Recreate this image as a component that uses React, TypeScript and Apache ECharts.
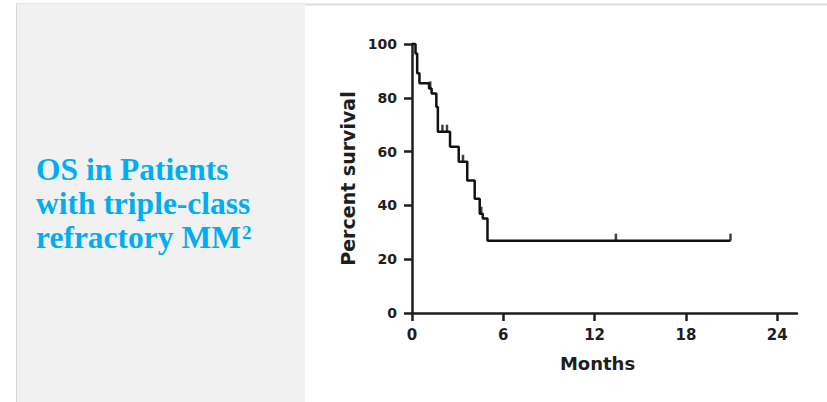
import React, { useEffect, useRef } from "react";
import * as echarts from "echarts";

// Kaplan-Meier step points (months, percent survival)
const stepMonths = [0, 0.23, 0.34, 0.49, 1.12, 1.29, 1.6, 1.7, 2.5, 3.07, 3.63, 4.12, 4.45, 4.65, 4.96, 20.93];
const stepSurvival = [100, 96.5, 89.1, 85.4, 83.5, 81.6, 76.6, 67.4, 61.8, 56.2, 49.3, 42.5, 36.9, 35.1, 26.9, 26.9];

// Censored observations
const censorMonths = [1.2, 2.0, 2.3, 3.35, 4.55, 13.4, 20.93];
const censorSurvival = [83.5, 67.4, 67.4, 56.2, 36.9, 26.9, 26.9];

const xTicks = [0, 6, 12, 18, 24];
const titleLines = ["OS in Patients", "with triple-class", "refractory MM"];
const titleSup = "2";
const xName = "Months";
const yName = "Percent survival";

export default function App() {
  const ref = useRef<HTMLDivElement>(null);
  useEffect(() => {
    if (!ref.current) return;
    const chart = echarts.init(ref.current, undefined, { renderer: "svg" });
    const sans = "DejaVu Sans";
    const serif = "Liberation Serif";
    const blue = "#00AEEF";
    const ink = "#1e1e1e";
    const lineCenters = [169.5, 203.5, 237.5];
    chart.setOption({
      animation: false,
      backgroundColor: "#ffffff",
      graphic: [
        { type: "rect", shape: { x: 16, y: 3, width: 289, height: 399 }, style: { fill: "#f1f1f1" }, z: 0 },
        { type: "line", shape: { x1: 16.5, y1: 3, x2: 16.5, y2: 402 }, style: { stroke: "#d6d6d6", lineWidth: 1 }, z: 1 },
        { type: "line", shape: { x1: 16, y1: 3.5, x2: 305, y2: 3.5 }, style: { stroke: "#e4e4e4", lineWidth: 1 }, z: 1 },
        { type: "line", shape: { x1: 305, y1: 4.5, x2: 827, y2: 4.5 }, style: { stroke: "#dcdcdc", lineWidth: 2 }, z: 1 },
        ...titleLines.map((t, i) => ({
          type: "text",
          x: 36,
          y: lineCenters[i],
          z: 2,
          style: {
            text: t,
            fill: blue,
            font: `bold 31.5px "${serif}"`,
            textAlign: "left",
            textVerticalAlign: "middle",
          },
        })),
        {
          type: "text",
          x: 242,
          y: 232.5,
          z: 2,
          style: {
            text: titleSup,
            fill: blue,
            font: `bold 19px "${serif}"`,
            textAlign: "left",
            textVerticalAlign: "middle",
          },
        },
      ],
      grid: { left: 412, top: 44, right: 30, bottom: 89, containLabel: false },
      xAxis: {
        type: "value",
        min: 0,
        max: 25.3,
        name: xName,
        nameLocation: "middle",
        nameGap: 41,
        nameTextStyle: { fontFamily: sans, fontWeight: "bold", fontSize: 18, color: ink, padding: [0, 14, 0, 0] },
        axisLine: { lineStyle: { color: ink, width: 2.5 } },
        axisTick: { show: true, length: 8, lineStyle: { color: ink, width: 2.5 }, customValues: xTicks },
        axisLabel: { fontFamily: sans, fontWeight: "bold", fontSize: 15, color: ink, margin: 14, customValues: xTicks },
        splitLine: { show: false },
      },
      yAxis: {
        type: "value",
        min: 0,
        max: 100,
        interval: 20,
        name: yName,
        nameLocation: "middle",
        nameGap: 55,
        nameTextStyle: { fontFamily: sans, fontWeight: "bold", fontSize: 19, color: ink },
        axisLine: { show: true, lineStyle: { color: ink, width: 2.5 } },
        axisTick: { show: true, length: 8, lineStyle: { color: ink, width: 2.5 } },
        axisLabel: { fontFamily: sans, fontWeight: "bold", fontSize: 14, color: ink, margin: 15 },
        splitLine: { show: false },
      },
      series: [
        {
          type: "line",
          step: "end",
          showSymbol: false,
          data: stepMonths.map((m, i) => [m, stepSurvival[i]]),
          lineStyle: { color: "#111111", width: 2.5 },
          z: 3,
          clip: false,
        },
        {
          type: "scatter",
          symbol: "rect",
          symbolSize: [2.5, 7],
          symbolOffset: [0, -3.5],
          data: censorMonths.map((m, i) => [m, censorSurvival[i]]),
          itemStyle: { color: "#111111" },
          z: 4,
        },
      ],
    });
    return () => chart.dispose();
  }, []);
  return (
    <div
      ref={ref}
      style={{ position: "fixed", left: 0, top: 0, width: 827, height: 402, background: "#fff" }}
    />
  );
}
